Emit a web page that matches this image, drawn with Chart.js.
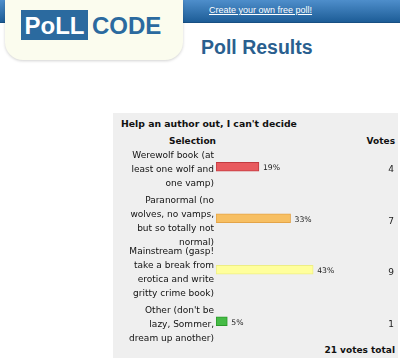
<!DOCTYPE html>
<html>
<head>
<meta charset="utf-8">
<script src="https://cdn.jsdelivr.net/npm/chart.js@4"></script>
<style>
  body { margin: 0; width: 400px; height: 361px; overflow: hidden; background: #fff; position: relative; font-family: "DejaVu Sans", Verdana, sans-serif; }
  .topbar { position: absolute; left: 0; top: 0; width: 400px; height: 22px; background: linear-gradient(#4e8ecb, #1d5d97); border-bottom: 1px solid #174f82; }
  .topbar a { position: absolute; left: 209px; top: 5px; font: 9px "Liberation Sans", Arial, sans-serif; color: #fff; text-decoration: underline; }
  .logo { position: absolute; left: 5px; top: 0; width: 178px; height: 60px; background: #fbfcee; border-radius: 0 0 18px 18px; box-shadow: 0 1px 3px rgba(0,0,0,0.18); }
  .poll { position: absolute; left: 16px; top: 10px; width: 67px; height: 30px; background: #2b6a9f; color: #fff; font: bold 24px "Liberation Sans", Arial, sans-serif; line-height: 31px; text-align: center; }
  .code { position: absolute; left: 87px; top: 10px; color: #2b6a9f; font: bold 24px "Liberation Sans", Arial, sans-serif; line-height: 31px; }
  .heading { position: absolute; left: 201px; top: 36px; color: #2a5f8f; font: bold 19.5px "Liberation Sans", Arial, sans-serif; }
  .panel { position: absolute; left: 113px; top: 113px; width: 285px; height: 245px; background: #efefef; }
  .t { position: absolute; font-size: 9px; line-height: 14px; color: #111; white-space: nowrap; }
  .b { font-weight: bold; }
  .title { font-size: 9.3px; }
  #wrap { position: absolute; left: 113px; top: 141px; width: 285px; height: 206px; }
</style>
</head>
<body>
<div class="topbar"><a>Create your own free poll!</a></div>
<div class="logo"><div class="poll">PoLL</div><div class="code">CODE</div></div>
<div class="heading">Poll Results</div>
<div class="panel"></div>
<div class="t b title" style="left:121px; top:117px;">Help an author out, I can't decide</div>
<div class="t b" style="right:184px; top:134px;">Selection</div>
<div class="t b" style="right:5px; top:134px;">Votes</div>
<div class="t b" style="right:5px; top:343px;">21 votes total</div>
<div id="wrap"><canvas id="pollChart"></canvas></div>
<script>
const choices = [
    ['Werewolf book (at', 'least one wolf and', 'one vamp)'],
    ['Paranormal (no', 'wolves, no vamps,', 'but so totally not', 'normal)'],
    ['Mainstream (gasp!', 'take a break from', 'erotica and write', 'gritty crime book)'],
    ['Other (don\'t be', 'lazy, Sommer,', 'dream up another)']
];
const percents = [19, 33, 43, 5];
const votes = [4, 7, 9, 1];

const barFills = ['#e85a5e', '#f7bf62', '#ffff9c', '#46bb46'];
const barEdges = ['#c23a40', '#e4a448', '#eeee84', '#2a9a2a'];

// percent next to each bar, vote count at the right edge
const pollText = {
    id: 'pollText',
    afterDatasetsDraw(chart) {
        const ctx = chart.ctx;
        const meta = chart.getDatasetMeta(0);
        const y = chart.scales.y;
        ctx.save();
        ctx.fillStyle = '#222';
        ctx.textBaseline = 'middle';
        meta.data.forEach((bar, i) => {
            const py = y.getPixelForValue(i);
            ctx.font = '7.7px "DejaVu Sans"';
            ctx.textAlign = 'left';
            ctx.fillText(percents[i] + '%', bar.x + 4, py + 1.5);
            ctx.font = '9px "DejaVu Sans"';
            ctx.textAlign = 'right';
            ctx.fillText(String(votes[i]), chart.width - 4, py + 3);
        });
        ctx.restore();
    }
};

new Chart(document.getElementById('pollChart').getContext('2d'), {
    type: 'bar',
    data: {
        labels: choices,
        datasets: [{
            data: percents,
            backgroundColor: barFills,
            borderColor: barEdges,
            borderWidth: 1,
            borderSkipped: false,
            barThickness: 9
        }]
    },
    options: {
        indexAxis: 'y',
        responsive: true,
        maintainAspectRatio: false,
        animation: false,
        layout: { padding: { left: 0, right: 69, top: 0, bottom: 0 } },
        plugins: {
            legend: { display: false },
            tooltip: { enabled: false }
        },
        scales: {
            x: { display: false, min: 0, max: 50 },
            y: {
                grid: { display: false, drawTicks: false },
                border: { display: false },
                afterFit: (scale) => {
                    scale.width = 103;
                    scale.paddingTop = 0;
                    scale.paddingBottom = 0;
                },
                ticks: {
                    autoSkip: false,
                    padding: 2,
                    labelOffset: 3,
                    color: '#111',
                    font: { family: 'DejaVu Sans', size: 9, lineHeight: 14 / 9 }
                }
            }
        }
    },
    plugins: [pollText]
});
</script>
</body>
</html>
